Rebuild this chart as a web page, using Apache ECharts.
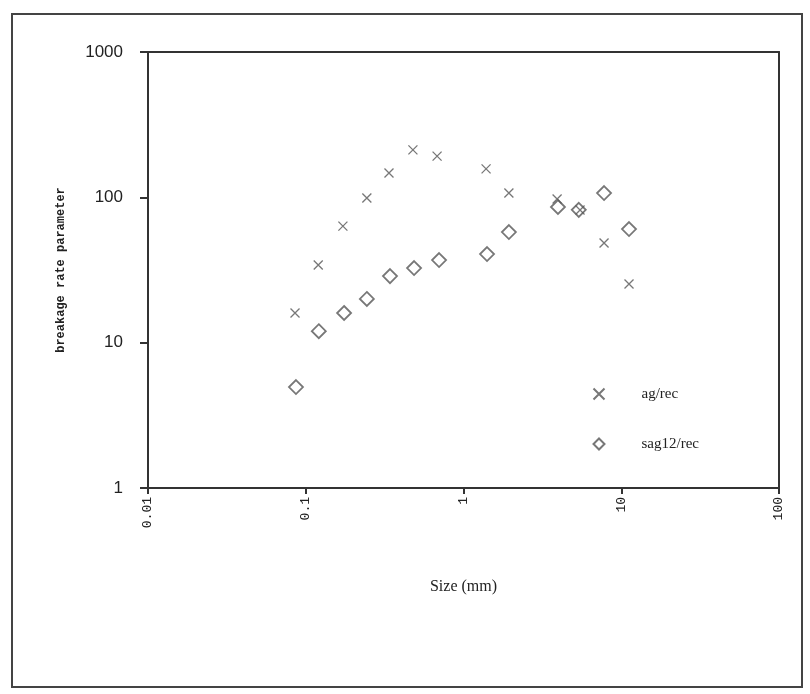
<!DOCTYPE html>
<html>
<head>
<meta charset="utf-8">
<script src="https://cdn.jsdelivr.net/npm/echarts@6/dist/echarts.min.js"></script>
<style>
  html, body { margin: 0; padding: 0; background: #fff; }
  #chart { width: 810px; height: 694px; }
</style>
</head>
<body>
<div id="chart"></div>
<script>
// size (mm) and breakage rate parameter
const agSize = [0.0855, 0.12, 0.172, 0.244, 0.337, 0.478, 0.68, 1.39, 1.94, 3.92, 5.48, 7.78, 11.2]
const agRate = [16.0, 34.2, 63.4, 98.9, 147, 212, 192, 157, 107, 97.3, 81.8, 48.5, 25.3]
const sagSize = [0.0867, 0.121, 0.175, 0.244, 0.342, 0.486, 0.70, 1.41, 1.94, 3.97, 5.38, 7.78, 11.2]
const sagRate = [4.95, 12.0, 16.0, 20.0, 28.7, 32.6, 37.0, 40.7, 57.7, 85.8, 82, 107, 60.5]
const seriesNames = ['ag/rec', 'sag12/rec']

const pairs = (xs, ys) => xs.map((x, i) => [x, ys[i]])

const markColor = '#555'
const axisColor = '#333'
const crossPath = 'path://M0,0L10,10M10,0L0,10'

const boxAxis = {
  type: 'log', logBase: 10,
  axisLine: { show: true, onZero: false, lineStyle: { color: axisColor, width: 2 } },
  axisTick: { show: false }, axisLabel: { show: false }, splitLine: { show: false }
}

const chart = echarts.init(document.getElementById('chart'))

chart.setOption({
  backgroundColor: '#fff',
  animation: false,
  grid: {
    left: 148,
    right: 31,
    top: 52,
    bottom: 206
  },
  graphic: [{
    type: 'rect',
    shape: { x: 12, y: 14, width: 790, height: 673 },
    style: { fill: 'none', stroke: '#444', lineWidth: 2 }
  }],
  legend: {
    orient: 'vertical',
    left: 586,
    top: 381,
    itemGap: 34,
    itemWidth: 11,
    itemHeight: 11,
    data: [
      { name: seriesNames[0], icon: crossPath },
      { name: seriesNames[1], icon: 'diamond' }
    ],
    textStyle: {
      fontFamily: 'Liberation Serif',
      fontSize: 15,
      color: '#222',
      padding: [0, 0, 0, 32]
    }
  },
  xAxis: [{
    type: 'log',
    logBase: 10,
    min: 0.01,
    max: 100,
    name: 'Size (mm)',
    nameLocation: 'middle',
    nameGap: 91,
    nameTextStyle: {
      fontFamily: 'Liberation Serif',
      fontSize: 16,
      color: '#222'
    },
    axisLine: { show: true, onZero: false, lineStyle: { color: axisColor, width: 2 } },
    axisTick: { show: true, length: 6, lineStyle: { color: axisColor, width: 2 } },
    minorTick: { show: false },
    splitLine: { show: false },
    axisLabel: {
      rotate: 90,
      margin: 9,
      fontFamily: 'Liberation Mono',
      fontSize: 13,
      color: '#222',
      formatter: v => String(v)
    }
  }, Object.assign({ min: 0.01, max: 100, position: 'top' }, boxAxis)],
  yAxis: [{
    type: 'log',
    logBase: 10,
    min: 1,
    max: 1000,
    name: 'breakage rate parameter',
    nameLocation: 'middle',
    nameGap: 81,
    nameTextStyle: {
      fontFamily: 'Liberation Mono',
      fontWeight: 'bold',
      fontSize: 12,
      color: '#222'
    },
    axisLine: { show: true, onZero: false, lineStyle: { color: axisColor, width: 2 } },
    axisTick: { show: true, length: 8, lineStyle: { color: axisColor, width: 2 } },
    minorTick: { show: false },
    splitLine: { show: false },
    axisLabel: {
      margin: 25,
      fontFamily: 'Liberation Sans',
      fontSize: 17,
      color: '#222',
      formatter: v => String(v)
    }
  }, Object.assign({ min: 1, max: 1000, position: 'right' }, boxAxis)],
  series: [{
    name: seriesNames[0],
    type: 'scatter',
    symbol: crossPath,
    symbolSize: 9,
    itemStyle: { color: 'none', borderColor: markColor, borderWidth: 1.3 },
    data: pairs(agSize, agRate)
  }, {
    name: seriesNames[1],
    type: 'scatter',
    symbol: 'diamond',
    symbolSize: 14,
    itemStyle: { color: 'none', borderColor: markColor, borderWidth: 1.8 },
    data: pairs(sagSize, sagRate)
  }]
})
</script>
</body>
</html>
